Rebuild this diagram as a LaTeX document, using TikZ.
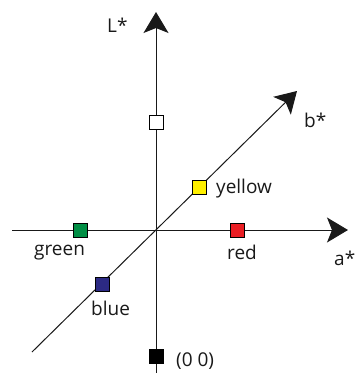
\documentclass[tikz,border=0pt]{standalone}
\usepackage{fontspec}
\setmainfont{Open Sans}
\usetikzlibrary{arrows.meta}

\definecolor{swyellow}{RGB}{255,240,0}
\definecolor{swgreen}{RGB}{0,142,68}
\definecolor{swred}{RGB}{234,30,36}
\definecolor{swblue}{RGB}{44,42,132}

\begin{document}
\begin{tikzpicture}[x=1pt, y=-1pt,
  axis/.style={draw=black!90, line width=1pt, -{Stealth[length=21pt, width=25pt, inset=5pt]}},
  swatch/.style={rectangle, draw, line width=0.9pt, minimum size=14pt, inner sep=0pt},
  lbl/.style={anchor=base west, inner sep=0pt, font=\fontsize{19}{21}\selectfont, text=black!90}
]
  \useasboundingbox (0,0) rectangle (355,373);

  % axis ends
  \coordinate (Lbot) at (156,373);
  \coordinate (Ltop) at (156,12);
  \coordinate (aleft) at (12,230);
  \coordinate (aright) at (348,230);
  \coordinate (bbot) at (32,352);
  \coordinate (btop) at (297,91);

  \draw[axis] (Lbot) -- (Ltop);
  \draw[axis] (aleft) -- (aright);
  \draw[axis] (bbot) -- (btop);

  % colour swatches
  \node[swatch, fill=white] (white) at (156,122) {};
  \node[swatch, fill=swyellow] (yellow) at (199,187) {};
  \node[swatch, fill=swgreen] (green) at (80,230) {};
  \node[swatch, fill=swred] (red) at (237,230) {};
  \node[swatch, fill=swblue] (blue) at (102,284) {};
  \node[swatch, fill=black] (black) at (156,356) {};

  % labels
  \node[lbl] (Lstar) at (107,32) {L*};
  \node[lbl] (bstar) at (304,127) {b*};
  \node[lbl] (astar) at (334,265) {a*};
  \node[lbl] (yellowtxt) at (216,193) {yellow};
  \node[lbl] (greentxt) at (34,255) {green};
  \node[lbl] (redtxt) at (227,259) {red};
  \node[lbl] (bluetxt) at (91,315) {blue};
  \node[lbl] (origintxt) at (176,366) {(0 0)};
\end{tikzpicture}
\end{document}
